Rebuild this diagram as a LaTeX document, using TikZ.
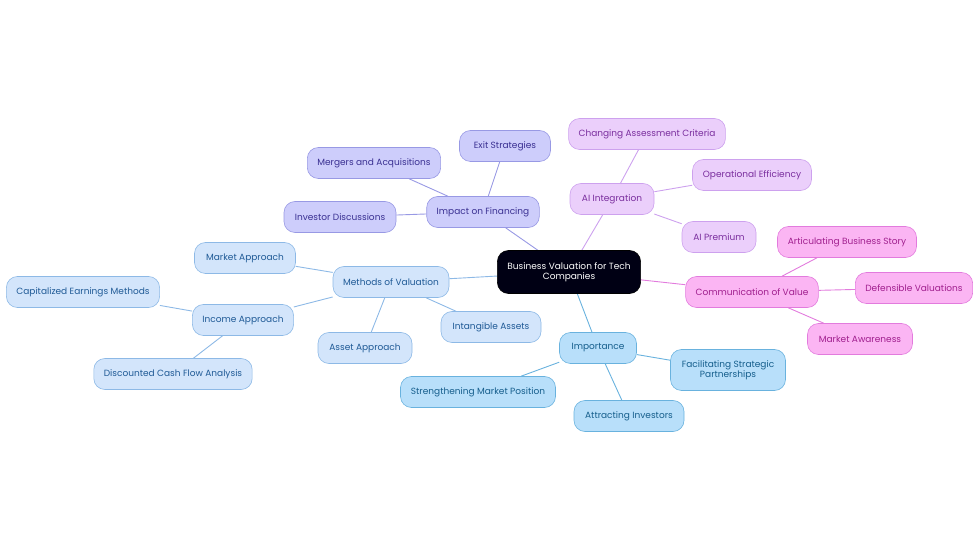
\documentclass[tikz,border=0pt]{standalone}
\usepackage{fontspec}
\setmainfont{Poppins}
\usetikzlibrary{backgrounds}
\definecolor{cA}{HTML}{D3E5FB}\definecolor{bA}{HTML}{8DB9E6}\definecolor{tA}{HTML}{1F5A96}
\definecolor{cB}{HTML}{B8DFFA}\definecolor{bB}{HTML}{69B2DE}\definecolor{tB}{HTML}{155E8C}
\definecolor{cC}{HTML}{CDCDFB}\definecolor{bC}{HTML}{9899E4}\definecolor{tC}{HTML}{3A3092}
\definecolor{cD}{HTML}{EBCFFB}\definecolor{bD}{HTML}{CDA1EE}\definecolor{tD}{HTML}{7A2E9E}
\definecolor{cE}{HTML}{FBB5F3}\definecolor{bE}{HTML}{E27BDD}\definecolor{tE}{HTML}{A01F8E}
\tikzset{
 base/.style={rounded corners=11pt,minimum height=31pt,inner xsep=10pt,font=\fontsize{9}{10.5}\selectfont,align=center,line width=0.6pt},
 A/.style={base,fill=cA,draw=bA,text=tA},
 B/.style={base,fill=cB,draw=bB,text=tB},
 C/.style={base,fill=cC,draw=bC,text=tC},
 D/.style={base,fill=cD,draw=bD,text=tD},
 E/.style={base,fill=cE,draw=bE,text=tE},
 eA/.style={draw=bA,line width=0.9pt},eB/.style={draw=bB,line width=0.9pt},
 eC/.style={draw=bC,line width=0.9pt},eD/.style={draw=bD,line width=0.9pt},eE/.style={draw=bE,line width=0.9pt}}
\begin{document}
\begin{tikzpicture}[x=1pt,y=-1pt]
\useasboundingbox (0,0) rectangle (980,553);
\node[base,fill=black!92!blue,draw=black,text=white,minimum width=139pt,minimum height=43pt] (c) at (569,272) {Business Valuation for Tech\\Companies};
\node[A,minimum width=116pt] (mv) at (391,282) {Methods of Valuation};
\node[A,minimum width=101pt] (ma) at (245,258) {Market Approach};
\node[A,minimum width=100pt] (ia) at (243,320) {Income Approach};
\node[A,minimum width=149pt] (ce) at (83,292) {Capitalized Earnings Methods};
\node[A,minimum width=153pt] (dc) at (173,374) {Discounted Cash Flow Analysis};
\node[A,minimum width=94pt] (aa) at (365,348) {Asset Approach};
\node[A,minimum width=100pt] (ib) at (491,327) {Intangible Assets};
\node[B,minimum width=77pt] (im) at (598,348) {Importance};
\node[B,minimum width=115pt,minimum height=41pt] (fs) at (728,370) {Facilitating Strategic\\Partnerships};
\node[B,minimum width=155pt] (sm) at (478,392) {Strengthening Market Position};
\node[B,minimum width=110pt] (ai) at (629,416) {Attracting Investors};
\node[C,minimum width=111pt] (if) at (483,212) {Impact on Financing};
\node[C,minimum width=91pt] (es) at (505,146) {Exit Strategies};
\node[C,minimum width=133pt] (mq) at (374,163) {Mergers and Acquisitions};
\node[C,minimum width=112pt] (id) at (340,217) {Investor Discussions};
\node[D,minimum width=84pt] (al) at (612,199) {AI Integration};
\node[D,minimum width=153pt] (ca) at (647,134) {Changing Assessment Criteria};
\node[D,minimum width=119pt] (oe) at (752,175) {Operational Efficiency};
\node[D,minimum width=74pt] (ap) at (719,237) {AI Premium};
\node[E,minimum width=127pt] (cv) at (752,292) {Communication of Value};
\node[E,minimum width=139pt] (ab) at (847,242) {Articulating Business Story};
\node[E,minimum width=116pt] (dv) at (914,288) {Defensible Valuations};
\node[E,minimum width=105pt] (mw) at (860,339) {Market Awareness};
\begin{scope}[on background layer]
\draw[eA] (c)--(mv) (mv)--(ma) (mv)--(ia) (ia)--(ce) (ia)--(dc) (mv)--(aa) (mv)--(ib);
\draw[eB] (c)--(im) (im)--(fs) (im)--(sm) (im)--(ai);
\draw[eC] (c)--(if) (if)--(es) (if)--(mq) (if)--(id);
\draw[eD] (c)--(al) (al)--(ca) (al)--(oe) (al)--(ap);
\draw[eE] (c)--(cv) (cv)--(ab) (cv)--(dv) (cv)--(mw);
\end{scope}
\end{tikzpicture}
\end{document}
